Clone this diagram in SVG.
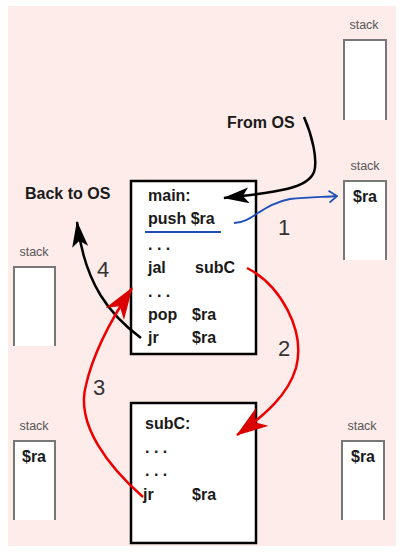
<svg xmlns="http://www.w3.org/2000/svg" width="401" height="552" viewBox="0 0 401 552">
<style>
.code{font-family:"Liberation Sans",Arial,sans-serif;font-weight:bold;font-size:16px;fill:#1a1a1a}
.lbl{font-family:"Liberation Sans",Arial,sans-serif;font-size:12.5px;fill:#555}
.num{font-family:"Liberation Sans",Arial,sans-serif;font-size:22px;fill:#333}
.box{fill:#fff;stroke:#000;stroke-width:2.5}
.stk{fill:#fff;stroke:#777;stroke-width:2}
.blk{fill:none;stroke:#000;stroke-width:2.5}
.red{fill:none;stroke:#ee0000;stroke-width:2.5}
.blu{fill:none;stroke:#1f4fb8;stroke-width:1.8}
</style>
<defs>
<marker id="hb" markerUnits="userSpaceOnUse" viewBox="0 0 26 16" markerWidth="26" markerHeight="16" refX="25" refY="8" orient="auto"><path d="M0,0 L26,8 L0,16 L6,8 z" fill="#000"/></marker>
<marker id="hr" markerUnits="userSpaceOnUse" viewBox="0 0 32 22" markerWidth="32" markerHeight="22" refX="31" refY="11" orient="auto"><path d="M0,0 L32,11 L0,22 L9,11 z" fill="#d90000"/></marker>
<marker id="hbl" markerUnits="userSpaceOnUse" viewBox="0 0 10 14" markerWidth="10" markerHeight="14" refX="9" refY="7" orient="auto"><path d="M1,1 L9,7 L1,13" fill="none" stroke="#1f4fb8" stroke-width="1.8"/></marker>
</defs>
<rect x="8" y="6" width="388" height="540" fill="#fdecea"/>

<g id="stack-top-right"><text class="lbl" x="364" y="29" text-anchor="middle">stack</text><path class="stk" d="M344,120 V40 H386 V120"/></g>
<g id="stack-mid-right"><text class="lbl" x="365" y="170" text-anchor="middle">stack</text><path class="stk" d="M344,260 V181 H386 V260"/><text class="code" x="365" y="202" text-anchor="middle">$ra</text></g>
<g id="stack-mid-left"><text class="lbl" x="34" y="256" text-anchor="middle">stack</text><path class="stk" d="M14,346 V267 H55 V346"/></g>
<g id="stack-bottom-left"><text class="lbl" x="34" y="430" text-anchor="middle">stack</text><path class="stk" d="M14,520 V441 H55 V520"/><text class="code" x="34" y="462" text-anchor="middle">$ra</text></g>
<g id="stack-bottom-right"><text class="lbl" x="362" y="430" text-anchor="middle">stack</text><path class="stk" d="M342,520 V441 H384 V520"/><text class="code" x="363" y="462" text-anchor="middle">$ra</text></g>

<g id="main">
<rect class="box" x="131" y="181" width="125" height="173"/>
<text class="code" x="148" y="201">main:</text>
<text class="code" x="148" y="224">push $ra</text>
<line x1="145" y1="232" x2="221" y2="232" stroke="#1f4fb8" stroke-width="1.8"/>
<text class="code" x="148" y="250">. . .</text>
<text class="code" x="148" y="273">jal</text><text class="code" x="195" y="273">subC</text>
<text class="code" x="148" y="297">. . .</text>
<text class="code" x="148" y="320">pop</text><text class="code" x="192" y="320">$ra</text>
<text class="code" x="148" y="343">jr</text><text class="code" x="192" y="343">$ra</text>
</g>

<g id="subC">
<rect class="box" x="131" y="403" width="125" height="140"/>
<text class="code" x="145" y="429">subC:</text>
<text class="code" x="145" y="453">. . .</text>
<text class="code" x="145" y="476">. . .</text>
<text class="code" x="143" y="500">jr</text><text class="code" x="192" y="500">$ra</text>
</g>

<g id="from-os"><text class="code" x="227" y="128">From OS</text></g>
<g id="back-to-os"><text class="code" x="25" y="199">Back to OS</text></g>

<g id="connectors">
<path class="blk" d="M304,117 C312,135 318,160 314,172 C308,188 280,192 224,198" marker-end="url(#hb)"/>
<path class="blu" d="M234,223 C252,223 262,204 290,199 C310,197 325,197 337,196" marker-end="url(#hbl)"/>
<path class="blk" d="M141,338 C110,315 85,285 77,222" marker-end="url(#hb)"/>
<path class="red" d="M247,268 C280,285 306,330 296,368 C288,395 265,415 237,435" marker-end="url(#hr)"/>
<path class="red" d="M143,497 C110,468 75,425 86,385 C94,350 112,318 132,288" marker-end="url(#hr)"/>
<text class="num" x="278" y="235">1</text>
<text class="num" x="278" y="356">2</text>
<text class="num" x="93" y="395">3</text>
<text class="num" x="97" y="277">4</text>
</g>
</svg>
